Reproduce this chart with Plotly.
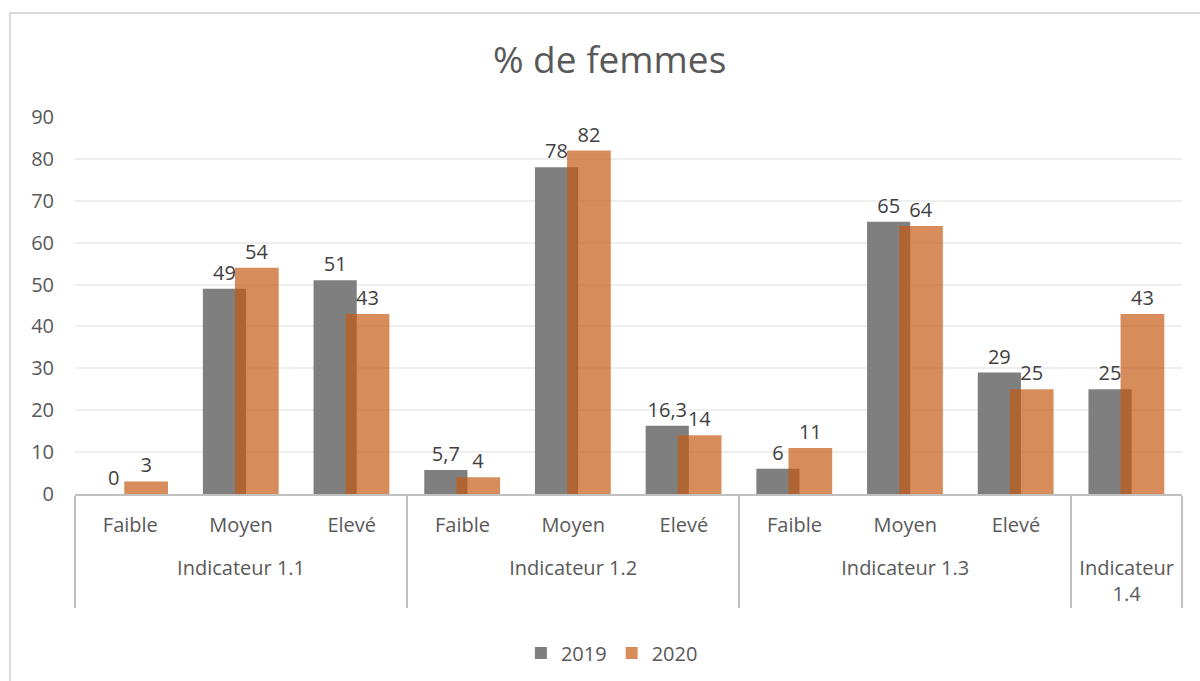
# % de femmes - indicateurs 2019 / 2020

import plotly.graph_objects as go

# %% Données
groupes = ["<br>Indicateur 1.1"] * 3 + ["<br>Indicateur 1.2"] * 3 + ["<br>Indicateur 1.3"] * 3 + ["<br>Indicateur<br>1.4"]
niveaux = ["Faible", "Moyen", "Elevé"] * 3 + [" "]
valeurs_2019 = [0, 49, 51, 5.7, 78, 16.3, 6, 65, 29, 25]
valeurs_2020 = [3, 54, 43, 4, 82, 14, 11, 64, 25, 43]


def fmt(v):
    # virgule décimale comme dans Excel
    return str(v).replace(".", ",")


# %% Figure
fig = go.Figure()

fig.add_trace(go.Bar(
    x=[groupes, niveaux], y=valeurs_2019, name="2019",
    marker=dict(color="#7f7f7f", line=dict(width=0)),
    width=0.39, offset=-0.345,
    text=[fmt(v) for v in valeurs_2019], textposition="outside",
    textfont=dict(size=20, color="#404040"), cliponaxis=False,
))
fig.add_trace(go.Bar(
    x=[groupes, niveaux], y=valeurs_2020, name="2020",
    marker=dict(color="rgba(197,90,17,0.69)", line=dict(width=0)),
    width=0.395, offset=-0.055,
    text=[fmt(v) for v in valeurs_2020], textposition="outside",
    textfont=dict(size=20, color="#404040"), cliponaxis=False,
))

# Formatação do gráfico
fig.update_layout(
    width=1200, height=681,
    barmode="overlay",
    paper_bgcolor="white", plot_bgcolor="white",
    font=dict(family="Open Sans", size=20, color="#595959"),
    title=dict(text="% de femmes", x=0.508, xanchor="center", y=1 - 60 / 681,
               yanchor="middle", yref="container",
               font=dict(size=37, color="#595959")),
    margin=dict(l=75, r=18, t=117, b=187),
    showlegend=True,
    legend=dict(orientation="h", x=0.485, xanchor="center", y=1 - 653 / 681,
                yanchor="middle", yref="container", font=dict(size=20, color="#595959"),
                itemwidth=30, traceorder="normal"),
)

fig.update_yaxes(
    range=[0, 90], dtick=10, showgrid=True, gridcolor="#eeeeee", gridwidth=2,
    zeroline=False, showline=False, ticks="", ticklabelstandoff=20,
    tickfont=dict(size=20, color="#595959"),
)
fig.update_xaxes(
    showline=True, linecolor="#c0c0c0", linewidth=2,
    showdividers=True, dividercolor="#c0c0c0", dividerwidth=2,
    ticks="", ticklabelstandoff=12, tickfont=dict(size=20, color="#595959"),
)

# cadre du graphique
fig.add_shape(type="rect", xref="paper", yref="paper",
              x0=(10 - 75) / 1107, x1=1.1, y0=-1, y1=(494 - 13) / 377,
              line=dict(color="#d9d9d9", width=2), layer="below")

fig.write_html("out.html", config={"displayModeBar": False},
               post_script="document.body.style.margin = '0';")
